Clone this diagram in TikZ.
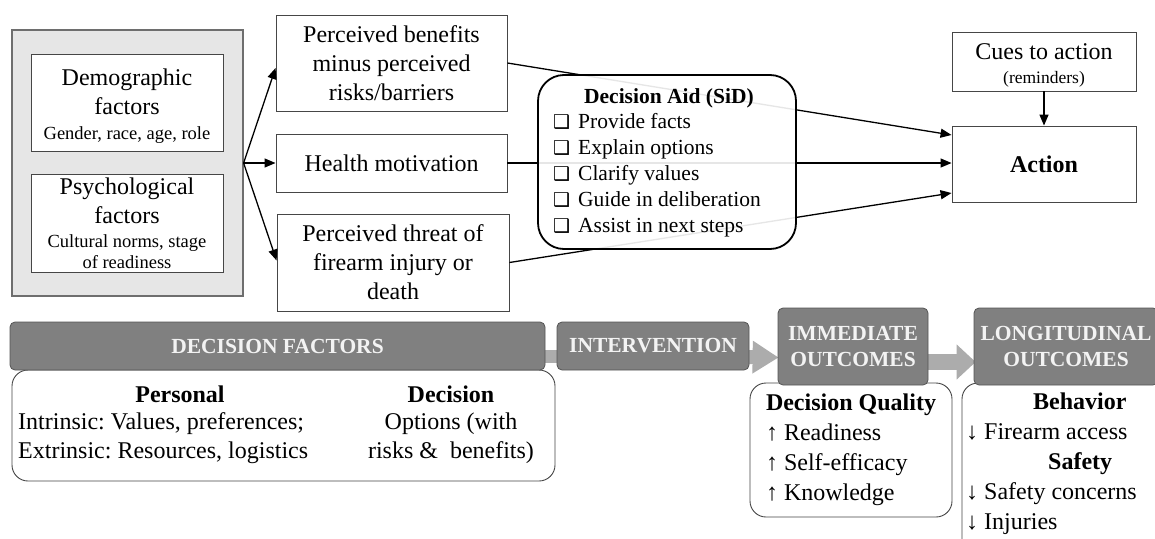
\documentclass[tikz,border=0pt]{standalone}
\usepackage{fontspec}
\setmainfont{Liberation Serif}
\newfontfamily\dejavu{DejaVu Sans}
\usetikzlibrary{arrows.meta,calc}
\pgfdeclarelayer{bg}
\pgfsetlayers{bg,main}
\frenchspacing
\definecolor{outerfill}{RGB}{230,230,230}
\definecolor{outerline}{RGB}{110,110,110}
\definecolor{boxline}{RGB}{70,70,70}
\definecolor{hdrfill}{RGB}{128,128,128}
\definecolor{hdrline}{RGB}{85,85,85}
\definecolor{hdrtext}{RGB}{243,243,243}
\definecolor{bandgray}{RGB}{172,172,172}
\newcommand{\fmain}{\fontsize{24}{29}\selectfont}
\newcommand{\fsub}{\fontsize{18.5}{21}\selectfont}
\newcommand{\faid}{\fontsize{21.5}{26}\selectfont}
\newcommand{\cbx}{{\dejavu\fontsize{19}{19}\selectfont ❑}\hspace{8pt}}
\begin{document}
\begin{tikzpicture}[x=1pt,y=-1pt,
  box/.style={draw=boxline,line width=0.9pt,fill=white,inner sep=0pt,align=center,font=\fmain},
  outerbox/.style={draw=outerline,line width=1.2pt,fill=outerfill,inner sep=0pt},
  arr/.style={line width=1.3pt,-{Triangle[length=11pt,width=9pt]}},
  aidbox/.style={draw=black,line width=1.8pt,fill=white,fill opacity=0.9,rounded corners=26pt,inner sep=0pt},
  hdr/.style={draw=hdrline,line width=0.8pt,fill=hdrfill,rounded corners=5pt,text=hdrtext,font=\bfseries\fontsize{21.5}{26}\selectfont,align=center,inner sep=0pt},
  body/.style={draw=boxline,line width=0.9pt,fill=white,rounded corners=16pt,inner sep=0pt},
  txt/.style={inner sep=0pt,font=\fmain},
  band/.style={draw=bandgray,line width=14pt}
]
\useasboundingbox (0,0) rectangle (1155,538);
\clip (0,0) rectangle (1155,538);
\begin{pgfonlayer}{bg}
\fill[white] (0,0) rectangle (1155,538);
\end{pgfonlayer}

% top part
\node[outerbox,minimum width=231pt,minimum height=266pt] (outer) at (127.5,163) {};
\node[box,minimum width=192pt,minimum height=97pt] (demo) at (127,102.5)
  {\rule{0pt}{23pt}Demographic\\factors\\[-4pt]\fsub Gender, race, age, role};
\node[box,minimum width=192pt,minimum height=98pt] (psych) at (127,223)
  {Psychological\\factors\\[-5pt]\fsub Cultural norms, stage\\[-8pt]\fsub of readiness};

\node[box,minimum width=231pt,minimum height=96pt] (ben) at (391.5,63)
  {Perceived benefits\\minus perceived\\risks/barriers};
\node[box,minimum width=231pt,minimum height=58pt] (health) at (391.5,163)
  {Health motivation};
\node[box,minimum width=232pt,minimum height=97pt] (threat) at (393,262.5)
  {Perceived threat of\\firearm injury or\\death};

\node[box,minimum width=184pt,minimum height=59pt] (cues) at (1044,61.5)
  {\rule{0pt}{23pt}Cues to action\\[-5pt]\fontsize{17.5}{23}\selectfont (reminders)};
\node[box,minimum width=184pt,minimum height=76pt] (action) at (1044,164)
  {\textbf{Action}};

\draw[arr] (outer.east) -- ($(ben.west)+(0,5)$);
\draw[arr] (outer.east) -- (health.west);
\draw[arr] (outer.east) -- ($(threat.west)+(0,-2)$);
\draw[arr] (ben.east) -- ($(action.west)+(0,-29)$);
\draw[arr] (health.east) -- ($(action.west)+(0,-1)$);
\draw[arr] (threat.east) -- ($(action.west)+(0,29)$);
\draw[arr] (cues.south) -- (action.north);

\node[aidbox,minimum width=258pt,minimum height=174pt] (aid) at (667,162) {};
\node[txt,font=\faid,align=left] (aidtext) at (657,163)
  {\hspace*{31pt}\textbf{Decision Aid (SiD)}\\[-1pt]
   \cbx Provide facts\\
   \cbx Explain options\\
   \cbx Clarify values\\
   \cbx Guide in deliberation\\
   \cbx Assist in next steps};

% bottom part: bodies
\node[body,minimum width=543pt,minimum height=111pt] (dfb) at (283.5,425.5) {};
\node[body,minimum width=202pt,minimum height=134pt,align=left,font=\fontsize{24}{30}\selectfont] (immb) at (851,450)
  {\textbf{Decision Quality}\\↑ Readiness\\↑ Self-efficacy\\↑ Knowledge};
\node[body,minimum width=213pt,minimum height=187pt] (lonb) at (1068.5,476.5) {};

% headers
\node[hdr,minimum width=535pt,minimum height=48pt] (dfh) at (277.5,346) {DECISION FACTORS};
\node[hdr,minimum width=192pt,minimum height=48pt] (inter) at (653,346) {INTERVENTION};
\node[hdr,minimum width=150pt,minimum height=77pt] (imm) at (853,346.5) {IMMEDIATE\\OUTCOMES};
\node[hdr,minimum width=184pt,minimum height=77pt] (lon) at (1066,346.5) {LONGITUDINAL\\OUTCOMES};

\begin{pgfonlayer}{bg}
\draw[band,line width=13pt] ($(dfh.east)+(-5,10.5)$) -- ($(inter.west)+(5,10.5)$);
\draw[band,-{Triangle[length=26pt,width=31pt]}] ($(inter.east)+(-5,11)$) -- ($(imm.west)+(1,11)$);
\draw[band,line width=16pt,-{Triangle[length=19pt,width=34pt]}] ($(imm.east)+(-5,15.5)$) -- ($(lon.west)+(2,15.5)$);
\end{pgfonlayer}

% texts in decision factors body
\node[txt,font=\bfseries\fmain] (pers) at (180,394) {Personal};
\node[txt,align=left,anchor=west] (persl) at (18,438)
  {Intrinsic: Values, preferences;\\Extrinsic: Resources, logistics};
\node[txt,font=\bfseries\fmain] (dec) at (451,394) {Decision};
\node[txt,align=center] (decl) at (451,438) {Options (with\\risks \&\ \ benefits)};

% texts in longitudinal body
\node[txt,align=left,anchor=west,font=\fontsize{24}{30}\selectfont] (lont) at (966,464)
  {\hspace*{67pt}\textbf{Behavior}\\↓ Firearm access\\\hspace*{82pt}\textbf{Safety}\\↓ Safety concerns\\↓ Injuries};
\end{tikzpicture}
\end{document}
